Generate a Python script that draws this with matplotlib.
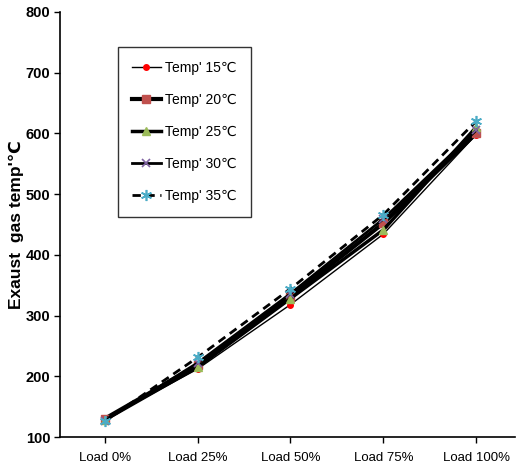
import matplotlib
matplotlib.use("Agg")
import matplotlib.pyplot as plt

plt.rcParams['font.family'] = ['Liberation Sans', 'DejaVu Sans']

loads = ["Load 0%", "Load 25%", "Load 50%", "Load 75%", "Load 100%"]
temp15 = [129, 212, 318, 434, 598]
temp20 = [130, 218, 331, 452, 600]
temp25 = [128, 215, 328, 441, 610]
temp30 = [127, 222, 336, 459, 605]
temp35 = [126, 231, 344, 466, 620]
labels = ["Temp' 15\u2103", "Temp' 20\u2103", "Temp' 25\u2103", "Temp' 30\u2103", "Temp' 35\u2103"]

fig = plt.figure(figsize=(5.22, 4.71), dpi=100)
ax = fig.add_axes([0.115, 0.072, 0.872, 0.903])

x = range(len(loads))
ax.plot(x, temp15, color='black', lw=1.0, marker='o', ms=4, mfc='#FF0000', mec='#FF0000', label=labels[0])
ax.plot(x, temp20, color='black', lw=3.0, marker='s', ms=6, mfc='#C0504D', mec='#C0504D', label=labels[1])
ax.plot(x, temp25, color='black', lw=2.5, marker='^', ms=6, mfc='#9BBB59', mec='#9BBB59', label=labels[2])
ax.plot(x, temp30, color='black', lw=2.0, marker='x', ms=6, mec='#8064A2', mew=1.2, label=labels[3])
ax.plot(x, temp35, color='black', lw=2.0, ls=(0, (3, 2)), marker=(6, 2, 0), ms=8, mec='#4BACC6', mew=1.2, label=labels[4])

ax.set_xlim(-0.48, 4.42)
ax.set_ylim(100, 800)
ax.set_yticks(range(100, 801, 100))
ax.set_xticks(list(x))
ax.set_xticklabels(loads, fontsize=9.5)
for t in ax.get_yticklabels():
    t.set_fontsize(10.5)
    t.set_fontweight('bold')
ax.tick_params(direction='out', length=4, width=1, colors='black')
ax.tick_params(axis='x', pad=7)
ax.tick_params(axis='y', pad=3)
ax.spines['top'].set_visible(False)
ax.spines['right'].set_visible(False)
ax.spines['left'].set_linewidth(1.2)
ax.spines['bottom'].set_linewidth(1.2)
ax.set_ylabel("Exaust  gas temp'\u2103", fontsize=12.5, fontweight='bold', labelpad=1)

leg = ax.legend(loc='upper left', bbox_to_anchor=(0.127, 0.918), fontsize=10,
                frameon=True, fancybox=False, labelspacing=1.3, handlelength=2.1,
                borderpad=1.0, handletextpad=0.3, borderaxespad=0)
leg.get_frame().set_edgecolor('black')
leg.get_frame().set_linewidth(1.0)

fig.savefig("out.png", dpi=100)
